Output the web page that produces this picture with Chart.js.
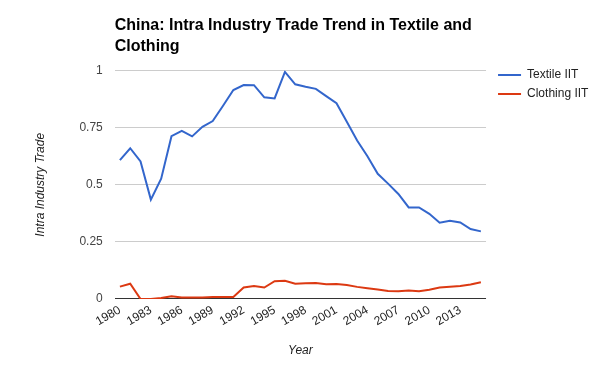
<!DOCTYPE html>
<html>
<head>
<meta charset="utf-8">
<script src="https://cdn.jsdelivr.net/npm/chart.js@4"></script>
<style>
  html, body { margin: 0; padding: 0; background: #fff; }
  #wrap { width: 600px; height: 371px; }
</style>
</head>
<body>
<div id="wrap"><canvas id="c" width="600" height="371"></canvas></div>
<script>
const years = ['1980','1981','1982','1983','1984','1985','1986','1987','1988','1989',
  '1990','1991','1992','1993','1994','1995','1996','1997','1998','1999',
  '2000','2001','2002','2003','2004','2005','2006','2007','2008','2009',
  '2010','2011','2012','2013','2014','2015'];
const textileIIT = [0.608,0.660,0.602,0.435,0.527,0.713,0.736,0.712,0.754,0.779,
  0.846,0.915,0.937,0.936,0.883,0.878,0.994,0.940,0.929,0.920,
  0.888,0.857,0.776,0.694,0.625,0.548,0.505,0.460,0.401,0.401,
  0.373,0.334,0.343,0.335,0.306,0.296];
const clothingIIT = [0.054,0.067,0.000,0.000,0.004,0.012,0.006,0.006,0.007,0.009,
  0.009,0.009,0.050,0.057,0.050,0.078,0.080,0.067,0.069,0.070,
  0.064,0.066,0.061,0.053,0.047,0.042,0.035,0.034,0.037,0.034,
  0.040,0.050,0.054,0.057,0.063,0.073];
const xTickLabels = ['1980','1983','1986','1989','1992','1995','1998','2001','2004','2007','2010','2013'];
const yTickValues = [0, 0.25, 0.5, 0.75, 1];
const yTickLabels = ['0', '0.25', '0.5', '0.75', '1'];
const titleLines = ['China: Intra Industry Trade Trend in Textile and', 'Clothing'];
const seriesNames = ['Textile IIT', 'Clothing IIT'];

const FONT = "Arial, 'Liberation Sans', sans-serif";

const legendShift = {
  id: 'legendShift',
  afterLayout(chart) {
    const l = chart.legend;
    if (!l) return;
    l.left += 5; l.right += 5;
    l.top -= 8.5; l.bottom -= 8.5;
  }
};

new Chart(document.getElementById('c'), {
  type: 'line',
  data: {
    labels: years,
    datasets: [
      { label: seriesNames[0], data: textileIIT, borderColor: '#3366CC', backgroundColor: '#3366CC',
        borderWidth: 2, pointRadius: 0, tension: 0 },
      { label: seriesNames[1], data: clothingIIT, borderColor: '#DC3912', backgroundColor: '#DC3912',
        borderWidth: 2, pointRadius: 0, tension: 0 }
    ]
  },
  options: {
    responsive: false,
    animation: false,
    devicePixelRatio: 1,
    layout: { padding: { left: 33, right: 6.6, top: 0, bottom: 0 } },
    plugins: {
      title: {
        display: true, text: titleLines, align: 'start', fullSize: false,
        color: '#000', font: { family: FONT, size: 16, weight: 'bold', lineHeight: 1.3 },
        padding: { top: 15, bottom: 14 }
      },
      legend: {
        display: true, position: 'right', align: 'start', fullSize: false,
        labels: {
          usePointStyle: true, pointStyle: 'line', pointStyleWidth: 23,
          color: '#222', font: { family: FONT, size: 12 }, padding: 7
        }
      },
      tooltip: { enabled: false }
    },
    scales: {
      x: {
        type: 'category', offset: true,
        grid: { display: false, drawTicks: false },
        border: { display: false },
        ticks: {
          autoSkip: false, minRotation: 30, maxRotation: 30, padding: 4,
          color: '#222', font: { family: FONT, size: 12 },
          callback: function(v, i) { const s = years[i]; return xTickLabels.includes(s) ? s : ''; }
        },
        title: { display: true, text: 'Year', color: '#222',
          font: { family: FONT, size: 12, style: 'italic' }, padding: { top: 10.8, bottom: 13 } }
      },
      y: {
        min: 0, max: 1,
        afterBuildTicks: (s) => { s.ticks = yTickValues.map(v => ({ value: v })); },
        grid: { drawTicks: false, color: (ctx) => (ctx.tick && ctx.tick.value === 0) ? '#333' : '#ccc' },
        border: { display: false },
        ticks: {
          padding: 12, color: '#444', font: { family: FONT, size: 12 },
          callback: function(v) { const k = yTickValues.indexOf(v); return k >= 0 ? yTickLabels[k] : ''; }
        },
        title: { display: true, text: 'Intra Industry Trade', color: '#222',
          font: { family: FONT, size: 12, style: 'italic' }, padding: { top: 0, bottom: 20 } }
      }
    }
  },
  plugins: [legendShift]
});
</script>
</body>
</html>
